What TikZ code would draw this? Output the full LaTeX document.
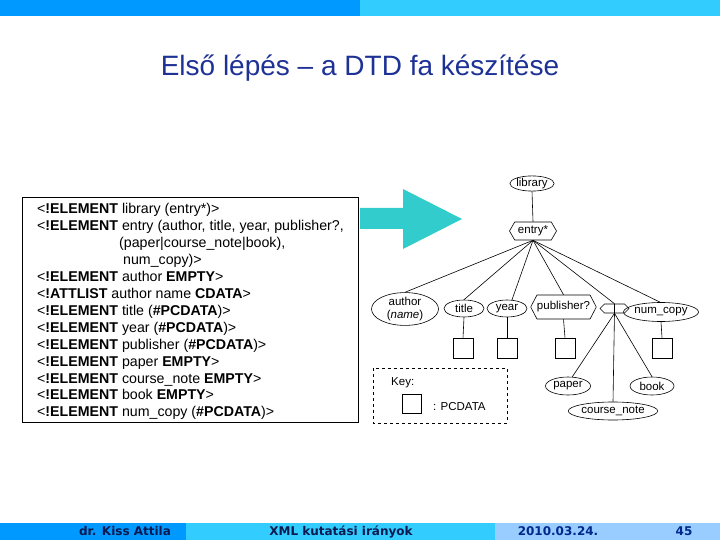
\documentclass[tikz,border=0pt]{standalone}
\usepackage{fontspec}
\setmainfont{Liberation Sans}
\newfontfamily\dejab{DejaVu Sans}
\usetikzlibrary{shapes.geometric,shapes.symbols}
\definecolor{barblue}{RGB}{0,153,255}
\definecolor{barcyan}{RGB}{51,204,255}
\definecolor{barlight}{RGB}{153,204,255}
\definecolor{titleblue}{RGB}{30,50,150}
\definecolor{arrowteal}{RGB}{51,204,204}
\definecolor{footdark}{RGB}{10,25,80}
\definecolor{footblue}{RGB}{0,40,140}
\begin{document}
\begin{tikzpicture}[x=1pt,y=-1pt,
  treetxt/.style={font=\fontsize{11.5}{12.5}\selectfont},
  ell/.style={draw, ellipse, inner sep=0pt, treetxt, line width=0.6pt},
  hexa/.style={draw, signal, signal to=east and west, inner sep=0pt, treetxt, line width=0.6pt},
  pc/.style={draw, minimum size=20pt, inner sep=0pt, line width=0.6pt},
  edge/.style={line width=0.6pt},
  dtd/.style={anchor=base west, font=\fontsize{14.2}{16}\selectfont, inner sep=0pt},
  foot/.style={font=\dejab\bfseries\fontsize{12}{14}\selectfont}]
\useasboundingbox (0,0) rectangle (720,540);
% top bars
\fill[barblue] (0,0) rectangle (360,16);
\fill[barcyan] (360,0) rectangle (720,16);
% bottom bars
\fill[barblue] (0,523) rectangle (186,540);
\fill[barcyan] (186,523) rectangle (495,540);
\fill[barlight] (495,523) rectangle (720,540);
\node[foot, text=footdark] (f1) at (125,531.5) {dr. Kiss Attila};
\node[foot, text=footdark] (f2) at (341,531.5) {XML kutatási irányok};
\node[foot, text=footblue] (f3) at (558,531.5) {2010.03.24.};
\node[foot, text=footblue] (f4) at (684,531.5) {45};
% title
\node[text=titleblue, font=\fontsize{28}{33}\selectfont] (title) at (360,68) {Első lépés – a DTD fa készítése};
% DTD box
\draw[line width=0.8pt] (22,197) rectangle (358,422);
\node[dtd] (d1) at (37,214) {<\textbf{!ELEMENT} library (entry*)>};
\node[dtd] (d2) at (37,230.9) {<\textbf{!ELEMENT} entry (author, title, year, publisher?,};
\node[dtd] (d3) at (119,247.8) {(paper|course\_note|book),};
\node[dtd] (d4) at (123,264.7) {num\_copy)>};
\node[dtd] (d5) at (37,281.6) {<\textbf{!ELEMENT} author \textbf{EMPTY}>};
\node[dtd] (d6) at (37,298.5) {<\textbf{!ATTLIST} author name \textbf{CDATA}>};
\node[dtd] (d7) at (37,315.4) {<\textbf{!ELEMENT} title (\textbf{\#PCDATA})>};
\node[dtd] (d8) at (37,332.3) {<\textbf{!ELEMENT} year (\textbf{\#PCDATA})>};
\node[dtd] (d9) at (37,349.2) {<\textbf{!ELEMENT} publisher (\textbf{\#PCDATA})>};
\node[dtd] (d10) at (37,366.1) {<\textbf{!ELEMENT} paper \textbf{EMPTY}>};
\node[dtd] (d11) at (37,383) {<\textbf{!ELEMENT} course\_note \textbf{EMPTY}>};
\node[dtd] (d12) at (37,399.9) {<\textbf{!ELEMENT} book \textbf{EMPTY}>};
\node[dtd] (d13) at (37,416.8) {<\textbf{!ELEMENT} num\_copy (\textbf{\#PCDATA})>};
% big arrow
\fill[arrowteal] (360,208) -- (403,208) -- (403,189) -- (462,219) -- (403,249) -- (403,229) -- (360,229) -- cycle;
% tree
\node[ell, minimum width=40pt, minimum height=13pt] (lib) at (532,183.5) {library};
\node[hexa, minimum width=47pt, minimum height=18pt, signal pointer angle=120] (entry) at (533,231) {entry*};
\node[ell, minimum width=67pt, minimum height=28pt, align=center] (author) at (405,309) {author\\(\textit{name})};
\node[ell, minimum width=40pt, minimum height=17pt] (titlen) at (464,308.5) {title};
\node[ell, minimum width=40pt, minimum height=17pt] (year) at (507,308.5) {year};
\node[hexa, minimum width=65pt, minimum height=24pt, signal pointer angle=125] (pub) at (563.5,307) {publisher?};
\node[hexa, minimum width=29pt, minimum height=9pt, signal pointer angle=90] (choice) at (614.5,308.5) {};
\node[ell, minimum width=58pt, minimum height=19pt] (numc) at (661,312) {num\_copy};
\node[pc] (sqt) at (463,348) {};
\node[pc] (sqy) at (507,348) {};
\node[pc] (sqp) at (565,348) {};
\node[pc] (sqn) at (662,348) {};
\node[ell, minimum width=45pt, minimum height=18pt] (paper) at (568,386) {paper};
\node[ell, minimum width=44pt, minimum height=18pt] (book) at (652,386) {book};
\node[ell, minimum width=83pt, minimum height=18pt] (cnote) at (613,411) {course\_note};
% edges
\draw[edge] (lib.south) -- (entry.north);
\draw[edge] (entry.south) -- (author.north);
\draw[edge] (entry.south) -- (titlen.north);
\draw[edge] (entry.south) -- (year.60);
\draw[edge] (entry.south) -- (pub.north);
\draw[edge] (entry.south) -- (choice.north);
\draw[edge] (entry.south) -- (numc.95);
\draw[edge] (choice.north) -- (choice.south);
\draw[edge] (titlen.south) -- (sqt.north);
\draw[edge] (year.south) -- (sqy.north);
\draw[edge] (pub.south) -- (sqp.north);
\draw[edge] (numc.south) -- (sqn.north);
\draw[edge] (choice.south) -- (paper.65);
\draw[edge] (choice.south) -- (book.north);
\draw[edge] (choice.south) -- (cnote.north);
% key
\draw[dashed, line width=0.7pt] (373,368) rectangle (507,423);
\node[treetxt, anchor=west, inner sep=0pt] (keyl) at (391,383) {Key:};
\node[pc, minimum size=19pt] (keysq) at (411.5,404) {};
\node[treetxt, anchor=west, inner sep=0pt] (keyt) at (433,407) {: PCDATA};
\end{tikzpicture}
\end{document}
